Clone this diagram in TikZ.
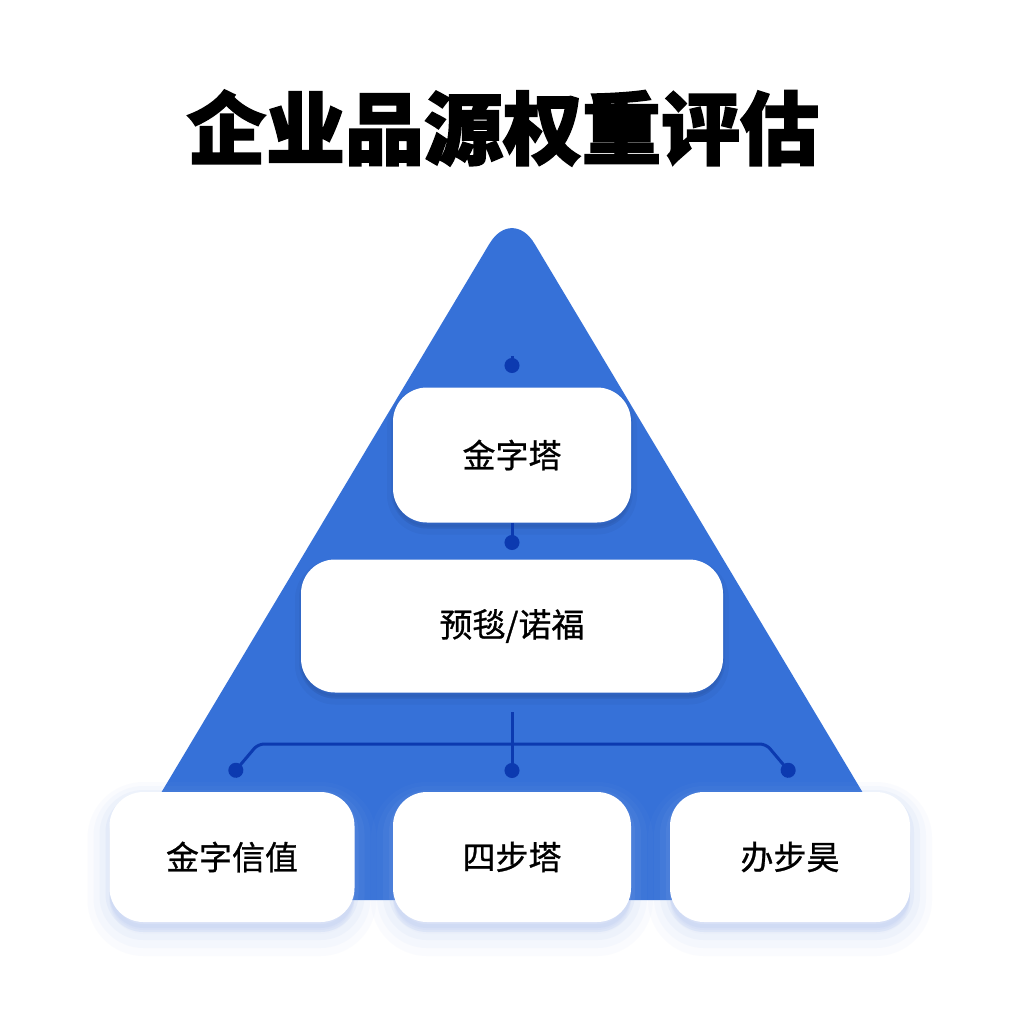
\documentclass[tikz,border=0pt]{standalone}
\usepackage{fontspec}
\setmainfont{Noto Sans CJK SC}[FakeBold=0.8,AutoFakeBold=0.8]
\newfontfamily\titlefont{Noto Sans CJK SC}[BoldFeatures={FakeBold=2.2}]
\usetikzlibrary{arrows.meta}
\definecolor{pyrblue}{RGB}{54,113,216}
\definecolor{wireblue}{RGB}{12,58,176}
\definecolor{glowblue}{RGB}{150,178,235}
\begin{document}
\begin{tikzpicture}[x=0.5pt,y=-0.5pt,
  box/.style={fill=white,rounded corners=17pt,inner sep=0pt,font=\fontsize{16.5}{20}\selectfont\bfseries},
  glow/.style={
    preaction={draw=glowblue,fill=glowblue,line width=22pt,opacity=0.04,transform canvas={yshift=-6pt}},
    preaction={draw=glowblue,fill=glowblue,line width=16pt,opacity=0.05,transform canvas={yshift=-5pt}},
    preaction={draw=glowblue,fill=glowblue,line width=10pt,opacity=0.07,transform canvas={yshift=-4pt}},
    preaction={draw=glowblue,fill=glowblue,line width=4pt,opacity=0.10,transform canvas={yshift=-3pt}}},
  softglow/.style={
    preaction={draw=black,fill=black,line width=6pt,opacity=0.03,transform canvas={yshift=-3pt}},
    preaction={draw=black,fill=black,line width=2pt,opacity=0.04,transform canvas={yshift=-2pt}}},
  wire/.style={draw=wireblue,line width=1.5pt,rounded corners=3pt,-{Circle[length=7.5pt]}}]
 \useasboundingbox[fill=white] (0,0) rectangle (1024,1024);
 % title
 \node (title) at (503,128) {\fontsize{39.5}{42}\selectfont\titlefont\bfseries 企业品源权重评估};
 % pyramid
 \begin{scope}
  \clip (120,0) rectangle (904,1024);
  \fill[pyrblue,rounded corners=22pt] (97,900) -- (512,206) -- (927,900) -- cycle;
 \end{scope}
 % boxes
 \node[box,softglow,minimum width=119pt,minimum height=67.5pt] (top) at (512,455) {金字塔};
 \node[box,softglow,minimum width=211pt,minimum height=66.5pt] (mid) at (512,626) {预毯/诺福};
 \node[box,glow,minimum width=122.5pt,minimum height=65pt] (left) at (232,857) {金字信值};
 \node[box,glow,minimum width=119pt,minimum height=65pt] (centre) at (512,857) {四步塔};
 \node[box,glow,minimum width=120pt,minimum height=65pt] (right) at (790,857) {办步昊};
 % connectors
 \coordinate (apex) at (512,356);
 \coordinate (split) at (512,712);
 \coordinate (hub) at (512,744);
 \draw[wire] (apex) -- (512,373);
 \draw[wire] (top.south) -- (512,550);
 \draw[wire] (split) -- (512,778);
 \draw[wire] (hub) -- (258,744) -- (231,776);
 \draw[wire] (hub) -- (766,744) -- (793,776);
\end{tikzpicture}
\end{document}
